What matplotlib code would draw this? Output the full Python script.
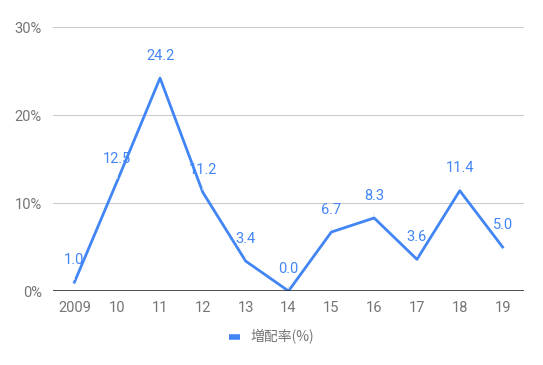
import matplotlib
matplotlib.use('Agg')
import matplotlib.pyplot as plt
from matplotlib.ticker import FuncFormatter

years = ['2009', '10', '11', '12', '13', '14', '15', '16', '17', '18', '19']
rates = [1.0, 12.5, 24.2, 11.2, 3.4, 0.0, 6.7, 8.3, 3.6, 11.4, 5.0]
yticks = [0, 10, 20, 30]
series_name = '増配率(%)'

blue = '#4285f4'
gray = '#757575'

plt.rcParams['font.family'] = ['Roboto', 'Noto Sans CJK JP', 'DejaVu Sans']

fig = plt.figure(figsize=(5.43, 3.65), dpi=100)
ax = fig.add_axes([0.0976, 0.2027, 0.8674, 0.7233])

x = list(range(len(years)))
ax.plot(x, rates, color=blue, linewidth=2, label=series_name)

for xi, v in zip(x, rates):
  ax.annotate('%.1f' % v, xy=(xi, v), xytext=(0, 16), textcoords='offset points',
              ha='center', va='center', color=blue, fontsize=10.5,
              arrowprops=dict(arrowstyle='-', color='#e6e6e6', lw=0.8,
                              shrinkA=6, shrinkB=2))

ax.set_xlim(-0.5, len(years) - 0.5)
ax.set_ylim(0, 30)
ax.set_yticks(yticks)
ax.yaxis.set_major_formatter(FuncFormatter(lambda v, p: '%d%%' % v))
ax.set_xticks(x)
ax.set_xticklabels(years)
ax.tick_params(axis='both', length=0, colors=gray, labelsize=10.5)
ax.tick_params(axis='x', pad=7)
ax.tick_params(axis='y', pad=8)

for s in ax.spines.values():
  s.set_visible(False)
ax.grid(axis='y', color='#cccccc', linewidth=0.8)
ax.set_axisbelow(True)
ax.axhline(0, color='#333333', linewidth=1.2, zorder=3)

leg = fig.legend(loc='center', bbox_to_anchor=(0.5, 0.077), frameon=False,
                 prop={'family': ['Noto Sans CJK JP'], 'size': 10},
                 handlelength=0.8, handletextpad=0.8)
for t in leg.get_texts():
  t.set_color(gray)
for h in leg.get_lines():
  h.set_linewidth(4)
  h.set_solid_capstyle('butt')

fig.savefig('out.png', dpi=100)
